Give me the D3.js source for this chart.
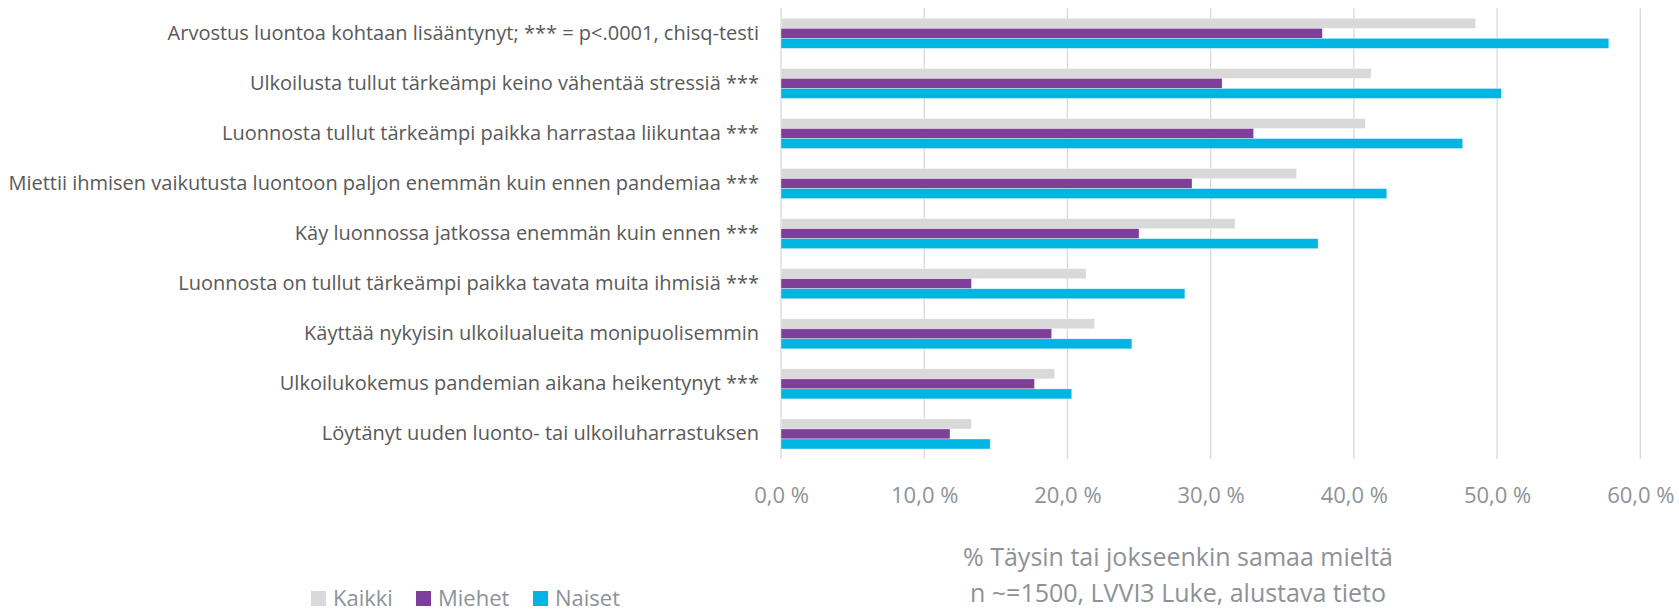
<!DOCTYPE html>
<html>
<head>
<meta charset="utf-8">
<script src="https://cdn.jsdelivr.net/npm/d3@7"></script>
<style>
  html, body { margin: 0; padding: 0; background: #fff; }
  svg { display: block; }
  text { font-family: "Open Sans", "Noto Sans", sans-serif; }
</style>
</head>
<body>
<svg id="chart" width="1679" height="613"></svg>
<script>
const categories = [
  "Arvostus luontoa kohtaan lisääntynyt; *** = p<.0001, chisq-testi",
  "Ulkoilusta tullut tärkeämpi keino vähentää stressiä ***",
  "Luonnosta tullut tärkeämpi paikka harrastaa liikuntaa ***",
  "Miettii ihmisen vaikutusta luontoon paljon enemmän kuin ennen pandemiaa ***",
  "Käy luonnossa jatkossa enemmän kuin ennen ***",
  "Luonnosta on tullut tärkeämpi paikka tavata muita ihmisiä ***",
  "Käyttää nykyisin ulkoilualueita monipuolisemmin",
  "Ulkoilukokemus pandemian aikana heikentynyt ***",
  "Löytänyt uuden luonto- tai ulkoiluharrastuksen"
];
const seriesNames = ["Kaikki", "Miehet", "Naiset"];
const kaikki = [48.5, 41.2, 40.8, 36.0, 31.7, 21.3, 21.9, 19.1, 13.3];
const miehet = [37.8, 30.8, 33.0, 28.7, 25.0, 13.3, 18.9, 17.7, 11.8];
const naiset = [57.8, 50.3, 47.6, 42.3, 37.5, 28.2, 24.5, 20.3, 14.6];
const tickValues = [0, 10, 20, 30, 40, 50, 60];
const axisTitle = ["% Täysin tai jokseenkin samaa mieltä", "n ~=1500, LVVI3 Luke, alustava tieto"];

const seriesValues = [kaikki, miehet, naiset];
const colors = ["#D9D9D9", "#7F3F98", "#00B5E2"];

const svg = d3.select("#chart");

const x = d3.scaleLinear().domain([0, 60]).range([781, 1640.3]);
const y = d3.scaleBand().domain(categories).range([8.3, 459]).paddingInner(0.4).paddingOuter(0.2);
const ySub = d3.scaleBand().domain(seriesNames).range([0, y.bandwidth()]);

// gridlines
svg.append("g")
  .selectAll("line")
  .data(tickValues)
  .join("line")
  .attr("x1", d => x(d)).attr("x2", d => x(d))
  .attr("y1", 8.3).attr("y2", 459)
  .attr("stroke", "#D9D9D9")
  .attr("stroke-width", 1.3);

// bars
const groups = svg.append("g")
  .selectAll("g")
  .data(categories)
  .join("g")
  .attr("transform", d => `translate(0,${y(d)})`);

groups.selectAll("rect")
  .data((d, i) => seriesNames.map((s, j) => ({ s, v: seriesValues[j][i], c: colors[j] })))
  .join("rect")
  .attr("x", x(0))
  .attr("y", d => ySub(d.s))
  .attr("width", d => x(d.v) - x(0))
  .attr("height", ySub.bandwidth())
  .attr("fill", d => d.c)
  .attr("stroke", "#ffffff")
  .attr("stroke-opacity", 0.6)
  .attr("stroke-width", 0.6);

// category labels
const yAxis = d3.axisLeft(y).tickSize(0).tickPadding(22);
const yg = svg.append("g").attr("transform", `translate(${x(0)},0)`).call(yAxis);
yg.select(".domain").remove();
yg.selectAll("text")
  .attr("fill", "#595959")
  .style("font-size", "20px")
  .style("font-family", "'Open Sans', sans-serif");

// x axis tick labels
const fmt = d => d3.format(".1f")(d).replace(".", ",") + " %";
const xAxis = d3.axisBottom(x).tickValues(tickValues).tickFormat(fmt).tickSize(0).tickPadding(0);
const xg = svg.append("g").attr("transform", "translate(0,503)").call(xAxis);
xg.select(".domain").remove();
xg.selectAll("text")
  .attr("dy", 0)
  .attr("fill", "#8E9297")
  .style("font-size", "22px")
  .style("font-family", "'Open Sans', sans-serif");

// axis title
svg.append("g")
  .selectAll("text")
  .data(axisTitle)
  .join("text")
  .attr("x", 1178)
  .attr("y", (d, i) => i === 0 ? 566 : 602)
  .attr("text-anchor", "middle")
  .attr("fill", "#8E9297")
  .style("font-size", "25px")
  .text(d => d);

// legend
const legendX = [311, 416, 533];
const lg = svg.append("g")
  .selectAll("g")
  .data(seriesNames)
  .join("g")
  .attr("transform", (d, i) => `translate(${legendX[i]},591)`);
lg.append("rect")
  .attr("width", 15).attr("height", 15)
  .attr("fill", (d, i) => colors[i]);
lg.append("text")
  .attr("x", 22).attr("y", 15)
  .attr("fill", "#8E9297")
  .style("font-size", "22px")
  .text(d => d);
</script>
</body>
</html>
